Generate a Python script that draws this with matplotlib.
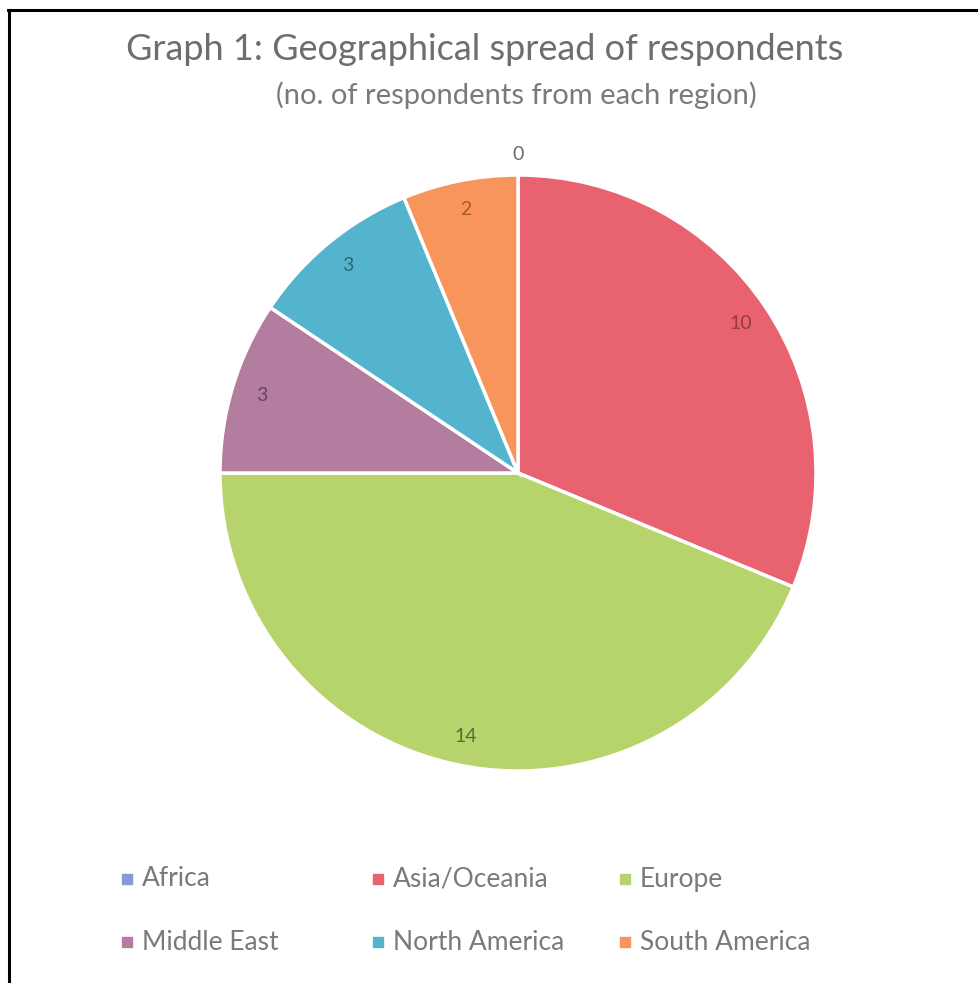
import numpy as np
import matplotlib.pyplot as plt
from matplotlib.lines import Line2D

# data
regions = ['Africa', 'Asia/Oceania', 'Europe', 'Middle East', 'North America', 'South America']
counts = [0, 10, 14, 3, 3, 2]

colors = ['#7f9fcf', '#e8636f', '#b7d46c', '#b27d9f', '#55b4cd', '#f8955d']
label_colors = ['#6a6a6a', '#9a3a44', '#5c6a2c', '#6a4460', '#2e6878', '#a85a2c']

plt.rcParams['font.family'] = ['Lato', 'DejaVu Sans']

fig = plt.figure(figsize=(9.79, 9.83), dpi=100)
fig.patch.set_facecolor('white')

# border lines (top and left only are visible in the scan)
fig.add_artist(Line2D([8 / 979, 1], [1 - 10 / 983, 1 - 10 / 983], color='black', lw=2.2))
fig.add_artist(Line2D([9 / 979, 9 / 979], [0, 1 - 10 / 983], color='black', lw=2.2))

fig.text(485 / 979, 1 - 50 / 983, 'Graph 1: Geographical spread of respondents',
         ha='center', va='center', fontsize=26, color='#6e6e6e')
fig.text(516 / 979, 1 - 95 / 983, '(no. of respondents from each region)',
         ha='center', va='center', fontsize=21, color='#7a7a7a')

ax = fig.add_axes([220 / 979, 1 - 771 / 983, 596 / 979, 596 / 983])
wedges, _ = ax.pie(counts, colors=colors, startangle=90, counterclock=False,
                   wedgeprops=dict(edgecolor='white', linewidth=2.5, clip_on=False))
ax.set_aspect('equal')
ax.set_xlim(-1, 1)
ax.set_ylim(-1, 1)
ax.axis('off')

# data labels: inside near the rim, the zero slice sits outside
for w, n, c in zip(wedges, counts, label_colors):
    ang = np.radians((w.theta1 + w.theta2) / 2)
    r = 1.07 if n == 0 else 0.9
    ax.text(r * np.cos(ang), r * np.sin(ang), str(n), ha='center', va='center',
            fontsize=14, color=c)

# legend, laid out as in the reference: 2 rows x 3 columns
col_x = [127, 378, 625]
row_y = [879, 942]
for i, (name, c) in enumerate(zip(regions, colors)):
    x = col_x[i % 3] / 979
    y = 1 - row_y[i // 3] / 983
    fig.add_artist(Line2D([x], [y], marker='s', markersize=7, color=c, lw=0))
    fig.text(x + 15 / 979, y, name, ha='left', va='center', fontsize=19, color='#7a7a7a')

plt.savefig('out.png', dpi=100, facecolor='white')
